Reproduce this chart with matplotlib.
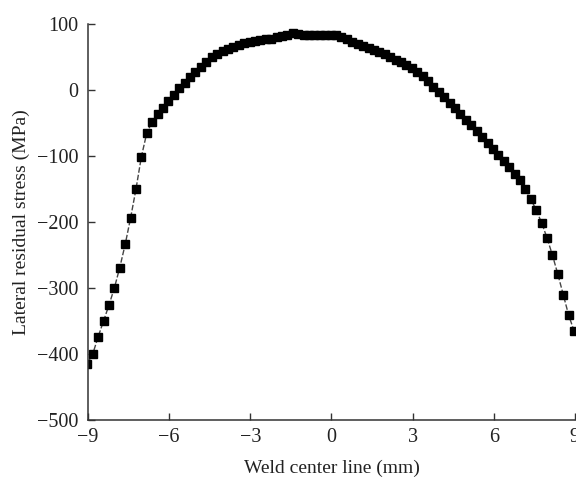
import matplotlib
matplotlib.use("Agg")
import matplotlib.pyplot as plt

# weld centre line position (mm) and lateral residual stress (MPa)
x_mm = [-9.03, -8.83, -8.63, -8.43, -8.23, -8.03, -7.83, -7.63, -7.43, -7.23,
        -7.03, -6.83, -6.63, -6.43, -6.23, -6.03, -5.83, -5.63, -5.43, -5.23,
        -5.03, -4.83, -4.63, -4.43, -4.23, -4.03, -3.83, -3.63, -3.43, -3.23,
        -3.03, -2.83, -2.63, -2.43, -2.23, -2.03, -1.83, -1.63, -1.43, -1.23,
        -1.03, -0.83, -0.63, -0.43, -0.23, -0.03, 0.17, 0.37, 0.57, 0.77,
        0.97, 1.17, 1.37, 1.57, 1.77, 1.97, 2.17, 2.37, 2.57, 2.77,
        2.97, 3.17, 3.37, 3.57, 3.77, 3.97, 4.17, 4.37, 4.57, 4.77,
        4.97, 5.17, 5.37, 5.57, 5.77, 5.97, 6.17, 6.37, 6.57, 6.77,
        6.97, 7.17, 7.37, 7.57, 7.77, 7.97, 8.17, 8.37, 8.57, 8.77,
        8.97]
stress = [-415, -400, -374, -350, -326, -300, -269, -234, -194, -150,
          -101, -65, -48, -37, -27, -17, -7, 3, 11, 19,
          27, 35, 43, 50, 55, 59, 62, 65, 68, 71,
          73, 75, 76, 77, 78, 80, 82, 84, 86, 85,
          84, 84, 83, 83, 83, 84, 83, 80, 77, 73,
          70, 67, 64, 61, 58, 54, 50, 46, 42, 38,
          34, 28, 21, 13, 5, -3, -11, -20, -28, -36,
          -45, -53, -62, -71, -80, -90, -99, -108, -117, -127,
          -137, -150, -165, -182, -201, -224, -250, -279, -310, -341,
          -365]

xticks = [-9, -6, -3, 0, 3, 6, 9]
yticks = [-500, -400, -300, -200, -100, 0, 100]

plt.rcParams['font.family'] = ['Liberation Serif', 'DejaVu Serif']

fig = plt.figure(figsize=(5.76, 4.8), dpi=100)
ax = fig.add_axes([0.153, 0.125, 0.845, 0.825])

ax.plot(x_mm, stress, color='#444444', linewidth=1.0, linestyle='--',
        dashes=(4, 1.5), marker='s', markersize=5.4,
        markerfacecolor='black', markeredgecolor='black')

ax.set_xlim(-9, 9)
ax.set_ylim(-500, 100)
ax.set_xticks(xticks)
ax.set_yticks(yticks)
ax.tick_params(direction='in', length=5, width=1, colors='#333333',
               labelcolor='#222222', labelsize=14.5)
ax.tick_params(axis='x', pad=6)
ax.tick_params(axis='y', pad=7)

for side in ['top', 'right']:
    ax.spines[side].set_visible(False)
for side in ['left', 'bottom']:
    ax.spines[side].set_color('#333333')
    ax.spines[side].set_linewidth(1.1)

ax.set_xlabel('Weld center line (mm)', fontsize=14, color='#222222', labelpad=9)
ax.set_ylabel('Lateral residual stress (MPa)', fontsize=14, color='#222222',
              labelpad=5)

fig.savefig('out.png', dpi=100)
